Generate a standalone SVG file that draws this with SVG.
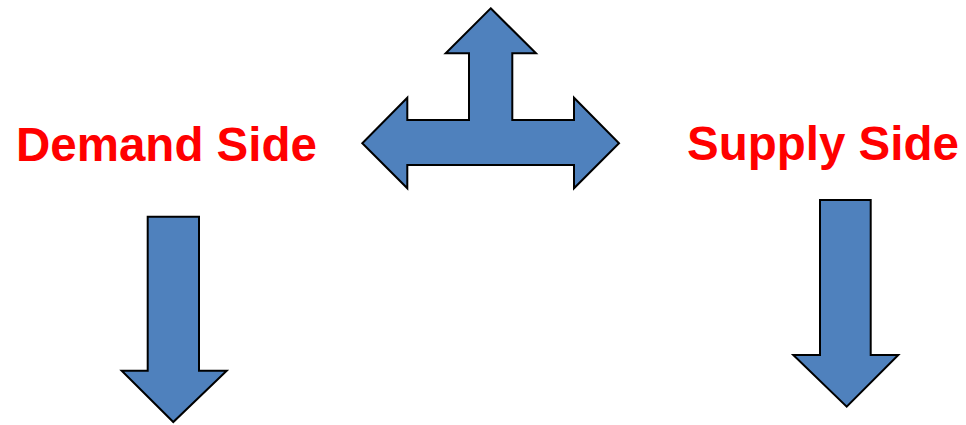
<svg xmlns="http://www.w3.org/2000/svg" width="966" height="425" viewBox="0 0 966 425">
<style>
.arrow{fill:#4F81BD;stroke:#000;stroke-width:2;stroke-linejoin:miter}
.lbl{font-family:"Liberation Sans",Arial,sans-serif;font-weight:bold;font-size:47.5px;fill:#FF0000}
</style>
<rect width="966" height="425" fill="#fff"/>
<g id="demand-label"><text class="lbl" x="16" y="161">Demand Side</text></g>
<g id="supply-label"><text class="lbl" x="687" y="159.5">Supply Side</text></g>
<g id="connectors">
<polygon id="three-way-arrow" class="arrow" points="490.7,8.3 536,53.3 512.3,53.3 512.3,120 574,120 574,97.7 619,143.3 574,188.3 574,165 407.3,165 407.3,188.3 362.3,143.3 407.3,97.7 407.3,120 469,120 469,53.3 445.7,53.3"/>
<polygon id="demand-arrow" class="arrow" points="147.7,216.7 199,216.7 199,370.7 226.7,370.7 173.3,422 121.7,370.7 147.7,370.7"/>
<polygon id="supply-arrow" class="arrow" points="820,200 870.7,200 870.7,355 898.3,355 846.7,406.7 793.3,355 820,355"/>
</g>
</svg>
